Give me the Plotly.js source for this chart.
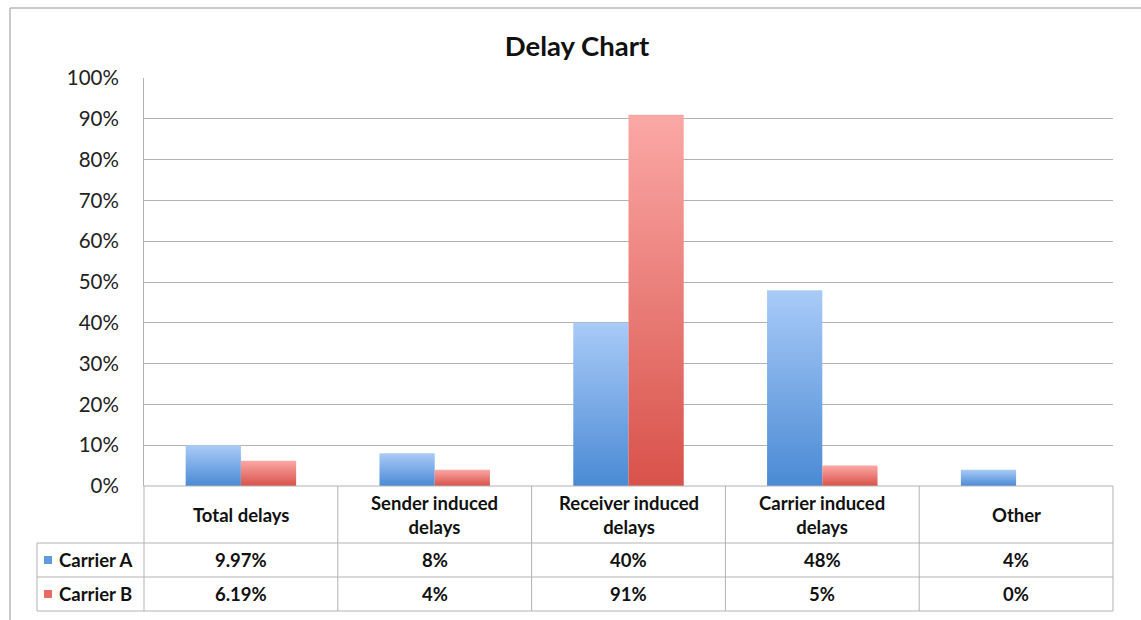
<!DOCTYPE html>
<html>
<head>
<meta charset="utf-8">
<script src="https://cdn.plot.ly/plotly-3.0.1.min.js"></script>
<style>html,body{margin:0;padding:0;background:#fff;}</style>
</head>
<body>
<div id="chart" style="width:1141px;height:620px;"></div>
<script>
// ---- data ----
const categories = ["Total delays", "Sender induced<br>delays", "Receiver induced<br>delays", "Carrier induced<br>delays", "Other"];
const seriesNames = ["Carrier A", "Carrier B"];
const carrierA = [9.97, 8, 40, 48, 4];
const carrierB = [6.19, 4, 91, 5, 0];
const carrierALabels = ["9.97%", "8%", "40%", "48%", "4%"];
const carrierBLabels = ["6.19%", "4%", "91%", "5%", "0%"];

// ---- layout helpers ----
const W = 1141, H = 620;
const L = 144, R = 1113, T = 78, B = 486;
const xp = px => (px - L) / (R - L);
const yp = py => (B - py) / (B - T);
const FONT = "Lato, 'Open Sans', sans-serif";
const lineCol = "#b3b3b3";
const xIdx = categories.map((c, i) => i);

const traces = [
  {type: "bar", name: seriesNames[0], x: xIdx, y: carrierA, marker: {color: "#78aae6"}, hoverinfo: "none"},
  {type: "bar", name: seriesNames[1], x: xIdx, y: carrierB, marker: {color: "#ec8077"}, hoverinfo: "none"}
];

const shapes = [];
const hline = (py, x0, x1) => shapes.push({type: "line", xref: "paper", yref: "paper", x0: xp(x0), x1: xp(x1), y0: yp(py), y1: yp(py), line: {color: lineCol, width: 1}});
const vlineP = (px, y0, y1) => shapes.push({type: "line", xref: "paper", yref: "paper", x0: xp(px), x1: xp(px), y0: yp(y0), y1: yp(y1), line: {color: lineCol, width: 1}});
const vlineX = (x, y0, y1) => shapes.push({type: "line", xref: "x", yref: "paper", x0: x, x1: x, y0: yp(y0), y1: yp(y1), line: {color: lineCol, width: 1}});

// outer frame
shapes.push({type: "line", xref: "paper", yref: "paper", x0: xp(10), x1: xp(1145), y0: yp(8), y1: yp(8), line: {color: "#b8b8b8", width: 1.5}});
shapes.push({type: "line", xref: "paper", yref: "paper", x0: xp(10), x1: xp(10), y0: yp(8), y1: yp(625), line: {color: "#b8b8b8", width: 1.5}});

// table
const rowHeader = [486, 543], rowA = [543, 577], rowB = [577, 611];
hline(rowHeader[0], L, R);
hline(rowA[0], 37, R);
hline(rowB[0], 37, R);
hline(rowB[1], 37, R);
vlineP(37, rowA[0], rowB[1]);
vlineP(L, rowHeader[0], rowB[1]);
vlineP(R, rowHeader[0], rowB[1]);
for (let i = 1; i < categories.length; i++) vlineX(i - 0.5, rowHeader[0], rowB[1]);

// legend keys
const keyColors = ["#5f9ce2", "#e66a62"];
[rowA, rowB].forEach((r, k) => {
  const cy = (r[0] + r[1]) / 2;
  shapes.push({type: "rect", xref: "paper", yref: "paper", x0: xp(44), x1: xp(52), y0: yp(cy - 4), y1: yp(cy + 4), fillcolor: keyColors[k], line: {width: 0}});
});

const annotations = [];
const tfont = {family: FONT, size: 18.5, color: "#111", weight: 700};
categories.forEach((c, i) => {
  annotations.push({xref: "x", yref: "paper", x: i, y: yp((rowHeader[0] + rowHeader[1]) / 2), text: "<b>" + c + "</b>", showarrow: false, font: tfont, xanchor: "center", yanchor: "middle"});
  annotations.push({xref: "x", yref: "paper", x: i, y: yp((rowA[0] + rowA[1]) / 2), text: "<b>" + carrierALabels[i] + "</b>", showarrow: false, font: tfont, xanchor: "center", yanchor: "middle"});
  annotations.push({xref: "x", yref: "paper", x: i, y: yp((rowB[0] + rowB[1]) / 2), text: "<b>" + carrierBLabels[i] + "</b>", showarrow: false, font: tfont, xanchor: "center", yanchor: "middle"});
});
[rowA, rowB].forEach((r, k) => {
  annotations.push({xref: "paper", yref: "paper", x: xp(57), y: yp((r[0] + r[1]) / 2), text: "<b>" + seriesNames[k] + "</b>", showarrow: false, font: tfont, xanchor: "left", yanchor: "middle"});
});

const layout = {
  width: W, height: H,
  margin: {l: L, r: W - R, t: T, b: H - B, pad: 0},
  paper_bgcolor: "#fff", plot_bgcolor: "#fff",
  showlegend: false,
  barmode: "group", bargap: 0.43, bargroupgap: 0,
  title: {text: "<b>Delay Chart</b>", x: 577 / W, xanchor: "center", y: 1 - 46 / H, yanchor: "middle", yref: "container", font: {family: FONT, size: 27.5, color: "#111"}},
  xaxis: {type: "linear", range: [-0.5, categories.length - 0.5], showticklabels: false, showgrid: false, zeroline: false, showline: false, ticks: "", fixedrange: true},
  yaxis: {range: [0, 100], dtick: 10, ticksuffix: "%", showgrid: true, gridcolor: lineCol, gridwidth: 1, zeroline: false, showline: true, linecolor: lineCol, linewidth: 1, ticks: "", ticklabelstandoff: 20, tickfont: {family: FONT, size: 20.5, color: "#222"}, fixedrange: true},
  shapes: shapes,
  annotations: annotations
};

Plotly.newPlot("chart", traces, layout, {staticPlot: true, displayModeBar: false}).then(gd => {
  const svg = gd.querySelector(".main-svg");
  let defs = svg.querySelector("defs");
  if (!defs) { defs = document.createElementNS("http://www.w3.org/2000/svg", "defs"); svg.insertBefore(defs, svg.firstChild); }
  const mk = (id, top, bot) => {
    const g = document.createElementNS("http://www.w3.org/2000/svg", "linearGradient");
    g.setAttribute("id", id); g.setAttribute("x1", "0"); g.setAttribute("y1", "0"); g.setAttribute("x2", "0"); g.setAttribute("y2", "1");
    [[0, top], [1, bot]].forEach(([o, c]) => {
      const s = document.createElementNS("http://www.w3.org/2000/svg", "stop");
      s.setAttribute("offset", o); s.setAttribute("stop-color", c); g.appendChild(s);
    });
    defs.appendChild(g);
  };
  mk("gradA", "#a9cbf8", "#4a8ad4");
  mk("gradB", "#fba8a6", "#d8524a");
  const tr = gd.querySelectorAll(".barlayer .trace");
  ["gradA", "gradB"].forEach((id, k) => {
    if (tr[k]) tr[k].querySelectorAll("path").forEach(p => { p.style.fill = "url(#" + id + ")"; });
  });
});
</script>
</body>
</html>
